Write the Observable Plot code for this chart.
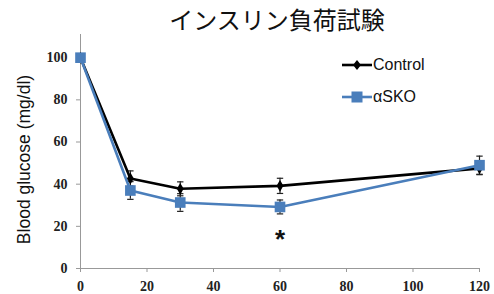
<!DOCTYPE html>
<html>
<head>
<meta charset="utf-8">
<script src="https://cdn.jsdelivr.net/npm/d3@7"></script>
<script src="https://cdn.jsdelivr.net/npm/@observablehq/plot@0.6"></script>
<style>
  html, body { margin: 0; padding: 0; background: #fff; }
  #wrap { position: relative; width: 494px; height: 294px; }
  .leg { position: absolute; left: 342px; font-family: "Liberation Sans", Arial, sans-serif; font-size: 16px; color: #111; display: flex; align-items: center; }
  .leg svg { margin-right: 1px; }
</style>
</head>
<body>
<div id="wrap"></div>
<script>
const title = "インスリン負荷試験";
const yLabel = "Blood glucose (mg/dl)";
const times = [0, 15, 30, 60, 120];
const controlMean = [100, 42.7, 37.8, 39.2, 47.5];
const controlErr = [0, 3.6, 3.3, 3.6, 3];
const askoMean = [100, 37, 31.3, 29.2, 49];
const askoErr = [0, 4.2, 4.2, 3.3, 4.3];
const seriesNames = ["Control", "αSKO"];
const colors = ["#000000", "#4a7ebb"];
const xTicks = [0, 20, 40, 60, 80, 100, 120];
const yTicks = [0, 20, 40, 60, 80, 100];
const sigTimes = [60];
const sigY = [16.5];

const rows = [];
times.forEach((t, i) => {
  rows.push({t, v: controlMean[i], e: controlErr[i], s: seriesNames[0]});
  rows.push({t, v: askoMean[i], e: askoErr[i], s: seriesNames[1]});
});
const errRows = rows.filter(d => d.e > 0);
const capSymbol = {
  draw(ctx, size) {
    const w = Math.sqrt(size) / 2;
    ctx.moveTo(-w, 0); ctx.lineTo(w, 0);
  }
};
const sig = sigTimes.map((t, i) => ({t, y: sigY[i]}));
const tickFont = {fontFamily: "Liberation Serif, serif", fontWeight: "bold", fontSize: 14, fill: "#222"};

const chart = Plot.plot({
  width: 494, height: 294,
  marginLeft: 80, marginRight: 15, marginTop: 34, marginBottom: 26,
  style: {background: "#fff", overflow: "visible"},
  x: {domain: [0, 120]},
  y: {domain: [0, 111]},
  color: {domain: seriesNames, range: colors},
  marks: [
    Plot.ruleX([0], {stroke: "#999", strokeWidth: 1}),
    Plot.ruleY([0], {stroke: "#999", strokeWidth: 1}),
    Plot.axisY({ticks: yTicks, tickSize: 4, stroke: "#999", label: null, tickFormat: () => ""}),
    Plot.axisX({ticks: xTicks, tickSize: 4, stroke: "#999", label: null, tickFormat: () => ""}),
    Plot.text(yTicks, {y: d => d, text: d => String(d), frameAnchor: "left", textAnchor: "end", dx: -13, ...tickFont}),
    Plot.text(xTicks, {x: d => d, text: d => String(d), frameAnchor: "bottom", lineAnchor: "middle", dy: 18, ...tickFont}),
    Plot.ruleX(errRows, {x: "t", y1: d => d.v - d.e, y2: d => d.v + d.e, stroke: "#222", strokeWidth: 1.2}),
    Plot.dot(errRows, {x: "t", y: d => d.v + d.e, symbol: capSymbol, r: 3.6, stroke: "#222", strokeWidth: 1.2, fill: "none"}),
    Plot.dot(errRows, {x: "t", y: d => d.v - d.e, symbol: capSymbol, r: 3.6, stroke: "#222", strokeWidth: 1.2, fill: "none"}),
    Plot.line(rows, {x: "t", y: "v", z: "s", stroke: "s", strokeWidth: 2.6}),
    Plot.dot(rows.filter(d => d.s === seriesNames[0]), {x: "t", y: "v", symbol: "diamond", r: 3.6, fill: colors[0]}),
    Plot.dot(rows.filter(d => d.s === seriesNames[1]), {x: "t", y: "v", symbol: "square", r: 6, fill: colors[1]}),
    Plot.text(sig, {x: "t", y: "y", text: () => "*", fontSize: 26, fontWeight: "bold", fontFamily: "Liberation Sans, sans-serif", fill: "#111", dy: 6}),
    Plot.text([title], {frameAnchor: "top", text: d => d, dy: -13, lineAnchor: "middle", dx: -3,
      fontFamily: "Noto Sans CJK JP", fontSize: 24, fill: "#111"}),
    Plot.text([yLabel], {frameAnchor: "left", text: d => d, rotate: -90, textAnchor: "middle", dx: -56, dy: 8,
      fontFamily: "Liberation Sans, Arial, sans-serif", fontSize: 17.5, fill: "#111"})
  ]
});
const wrap = document.getElementById("wrap");
wrap.appendChild(chart);

function legendItem(name, color, top, symbol) {
  const div = document.createElement("div");
  div.className = "leg";
  div.style.top = (top - 11) + "px";
  const marker = symbol === "diamond"
    ? `<path d="M15,6 L19,11 L15,16 L11,11 Z" fill="${color}"/>`
    : `<rect x="9.5" y="5.5" width="11" height="11" fill="${color}"/>`;
  div.innerHTML = `<svg width="30" height="22"><line x1="0" y1="11" x2="30" y2="11" stroke="${color}" stroke-width="2.6"/>${marker}</svg><span>${name}</span>`;
  wrap.appendChild(div);
}
legendItem(seriesNames[0], colors[0], 65, "diamond");
legendItem(seriesNames[1], colors[1], 97, "square");
</script>
</body>
</html>
